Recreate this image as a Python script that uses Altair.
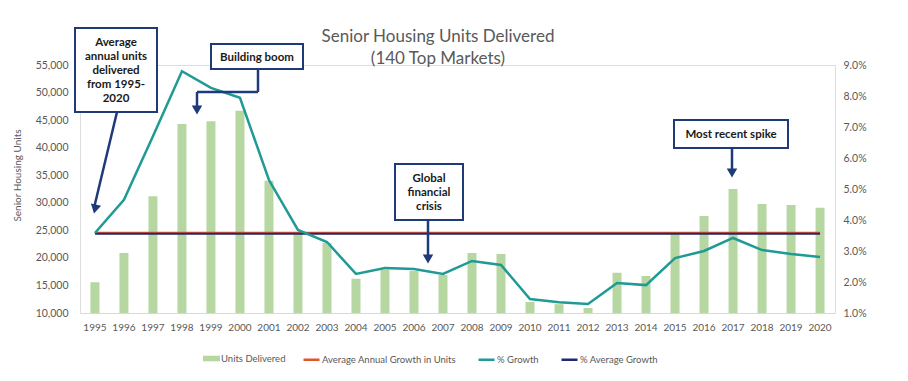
import altair as alt
import pandas as pd

# ---------------- data ----------------
years = [str(y) for y in range(1995, 2021)]
units_delivered = [15600, 20900, 31200, 44300, 44800, 46700, 34000, 24500, 22700,
                   16200, 17800, 17600, 16900, 20900, 20700, 12000, 11600, 10900,
                   17300, 16700, 24700, 27600, 32500, 29800, 29600, 29100]
growth_pct = [3.58, 4.65, 6.70, 8.80, 8.26, 7.94, 5.29, 3.68, 3.29, 2.26, 2.45,
              2.42, 2.26, 2.68, 2.55, 1.45, 1.35, 1.29, 1.97, 1.90, 2.77, 3.00,
              3.42, 3.03, 2.90, 2.81]
avg_units = 24550
avg_growth_pct = 3.56

series_names = ["Units Delivered", "Average Annual Growth in Units",
                "% Growth", "% Average Growth"]
title_lines = ["Senior Housing Units Delivered", "(140 Top Markets)"]
left_ticks = list(range(10000, 55001, 5000))
right_ticks = [1, 2, 3, 4, 5, 6, 7, 8, 9]

# ---------------- styles ----------------
FONT = "Lato"
GREY = "#595959"
BAR_C = "#b7d7a2"
RED_C = "#e0552b"
TEAL_C = "#1f9a94"
NAVY_C = "#1f2a6e"
BOX_C = "#1f3a78"

bars_df = pd.DataFrame({"year": years, "value": units_delivered, "series": series_names[0]})
avg_df = pd.DataFrame({"year": years, "value": [avg_units] * len(years), "series": series_names[1]})
growth_df = pd.DataFrame({"year": years, "value": growth_pct, "series": series_names[2]})
avgg_df = pd.DataFrame({"year": years, "value": [avg_growth_pct] * len(years), "series": series_names[3]})

x_enc = alt.X("year:O", title=None,
              scale=alt.Scale(paddingInner=0.69, paddingOuter=0.36),
              axis=alt.Axis(labelAngle=0, labelFont=FONT, labelFontSize=10, labelColor=GREY,
                            ticks=False, domain=True, domainColor="#d9d9d9", domainWidth=1,
                            labelPadding=9, grid=False))

y_left = alt.Y("value:Q", title="Senior Housing Units",
               scale=alt.Scale(domain=[10000, 55000], nice=False, zero=False),
               axis=alt.Axis(values=left_ticks, labelExpr="format(datum.value, ',d')",
                             labelFont=FONT, labelFontSize=10.5,
                             labelColor=GREY, ticks=False, domain=False, grid=False,
                             labelPadding=12, titleFont=FONT, titleFontSize=10,
                             titleFontWeight="normal", titleColor=GREY,
                             titleX=-58, titleY=110, titleAngle=270))

y_right = alt.Y("value:Q", title=None,
                scale=alt.Scale(domain=[1, 9], nice=False, zero=False),
                axis=alt.Axis(orient="right", values=right_ticks,
                              labelExpr="format(datum.value, '.1f') + '%'",
                              labelFont=FONT, labelFontSize=10.5, labelColor=GREY,
                              ticks=False, domain=False, grid=False, labelPadding=8,
                              labelAlign="left"))

stroke_enc = alt.Stroke("series:N",
                        scale=alt.Scale(domain=series_names[1:], range=[RED_C, TEAL_C, NAVY_C]),
                        legend=alt.Legend(title=None, orient="none", direction="horizontal",
                                          legendX=222, legendY=285, symbolType="stroke",
                                          symbolSize=256, symbolStrokeWidth=2.5,
                                          labelFont=FONT, labelFontSize=9.5, labelColor=GREY,
                                          columnPadding=17, labelOffset=1))

bars = alt.Chart(bars_df).mark_bar(size=9, clip=True).encode(
    x=x_enc, y=y_left,
    fill=alt.Fill("series:N", scale=alt.Scale(domain=[series_names[0]], range=[BAR_C]),
                  legend=alt.Legend(title=None, orient="none", legendX=123, legendY=285,
                                    symbolType="M-1,-0.33L1,-0.33L1,0.33L-1,0.33Z",
                                    symbolSize=289, symbolStrokeWidth=0,
                                    labelFont=FONT, labelFontSize=9.5, labelColor=GREY,
                                    labelOffset=1)))

avg_line = alt.Chart(avg_df).mark_line(strokeWidth=2).encode(
    x=x_enc, y=y_left, stroke=stroke_enc)

growth_line = alt.Chart(growth_df).mark_line(strokeWidth=2.5).encode(
    x=x_enc, y=y_right, stroke=stroke_enc)

avgg_line = alt.Chart(avgg_df).mark_line(strokeWidth=2).encode(
    x=x_enc, y=y_right, stroke=stroke_enc)

left = alt.layer(bars, avg_line)
right = alt.layer(avgg_line, growth_line)

# ---------------- annotations (pixel layout relative to plot area) ----------------
LINE_H = 14
boxes = [
    dict(x0=-5, x1=77, y0=-37, y1=47, text=["Average", "annual units", "delivered", "from 1995-", "2020"]),
    dict(x0=131, x1=223, y0=-21, y1=4, text=["Building boom"]),
    dict(x0=315, x1=383, y0=99, y1=155, text=["Global", "financial", "crisis"]),
    dict(x0=594, x1=708, y0=55, y1=83, text=["Most recent spike"]),
]
segments = [
    (37, 47, 14, 143),
    (178, 4, 178, 27), (178, 27, 117, 27), (117, 27, 117, 42),
    (348, 155, 348, 190),
    (652, 83, 652, 104),
]
heads = [(15, 144, 13), (117, 45, 0), (348, 194, 0), (652, 108, 0)]

one = alt.Data(values=[{"a": 1}])
annots = []
for (sx, sy, ex, ey) in segments:
    annots.append(alt.Chart(one).mark_rule(stroke=BOX_C, strokeWidth=2.5).encode(
        x=alt.value(sx), y=alt.value(sy), x2=alt.value(ex), y2=alt.value(ey)))
for (hx, hy, ang) in heads:
    annots.append(alt.Chart(one).mark_point(shape="triangle-down", filled=True, fill=BOX_C,
                                            opacity=1, size=110, angle=ang, strokeWidth=0).encode(
        x=alt.value(hx), y=alt.value(hy)))
for b in boxes:
    n = len(b["text"])
    cy = (b["y0"] + b["y1"]) / 2 + 1
    annots.append(alt.Chart(one).mark_rect(fill="white", stroke=BOX_C, strokeWidth=2).encode(
        x=alt.value(b["x0"]), x2=alt.value(b["x1"]), y=alt.value(b["y0"]), y2=alt.value(b["y1"])))
    annots.append(alt.Chart(one).mark_text(font=FONT, fontSize=11.5, fontWeight="bold",
                                           color="#1a1a1a", lineHeight=LINE_H, align="center",
                                           baseline="middle", text=b["text"]).encode(
        x=alt.value((b["x0"] + b["x1"]) / 2), y=alt.value(cy - (n - 1) / 2 * LINE_H)))

# chart title drawn as a text mark so it can sit beside the callout boxes
title_mark = alt.Chart(one).mark_text(font=FONT, fontSize=17, color=GREY, lineHeight=22,
                                      align="center", baseline="alphabetic",
                                      text=title_lines).encode(
    x=alt.value(358), y=alt.value(-23))

chart = alt.layer(left, right, *annots, title_mark).resolve_scale(y="independent").properties(
    width=755, height=248,
    autosize=alt.AutoSizeParams(type="none"),
    padding={"left": 72, "top": 57, "right": 65, "bottom": 60},
).configure_view(stroke=None).configure(background="white")

chart.save("out.html", embed_options={"renderer": "svg", "actions": False})
